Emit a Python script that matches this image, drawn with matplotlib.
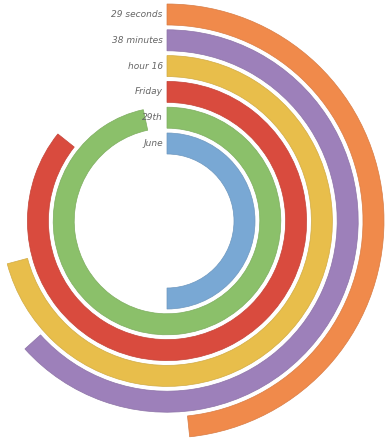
import numpy as np
import matplotlib
matplotlib.use("Agg")
import matplotlib.pyplot as plt
from matplotlib.colors import to_rgb

# polar clock: outermost ring first
labels = ["29 seconds", "38 minutes", "hour 16", "Friday", "29th", "June"]
values = [29, 38, 17, 6, 29, 6]
maxima = [60, 60, 24, 7, 30, 12]
colors = ["#F08A4B", "#9D80BA", "#E8BE4B", "#D94B3E", "#8BC06A", "#79A8D4"]

W, H = 392, 443
cx, cy = 167, 221      # centre in pixels from top-left
rmax = 220
ring_outer = 217
ring_step = 25.8
ring_w = 21

fig = plt.figure(figsize=(W / 100, H / 100), dpi=100)
ax = fig.add_axes([(cx - rmax) / W, (H - cy - rmax) / H, 2 * rmax / W, 2 * rmax / H],
                  projection="polar")
ax.set_theta_zero_location("N")
ax.set_theta_direction(-1)
ax.set_ylim(0, rmax)
ax.axis("off")

for i in range(len(labels)):
    frac = values[i] / maxima[i]
    r_in = ring_outer - i * ring_step - ring_w
    ang = 2 * np.pi * frac
    edge = tuple(c * 0.9 for c in to_rgb(colors[i]))
    ax.bar(ang / 2, ring_w, width=ang, bottom=r_in, color=colors[i],
           edgecolor=edge, linewidth=0.5, align="center")
    ax.annotate(labels[i], xy=(0, r_in + ring_w / 2), xytext=(-3, 0),
                textcoords="offset points", ha="right", va="center",
                fontsize=6.5, style="italic", color="#666666")

fig.savefig("out.png", dpi=100)
